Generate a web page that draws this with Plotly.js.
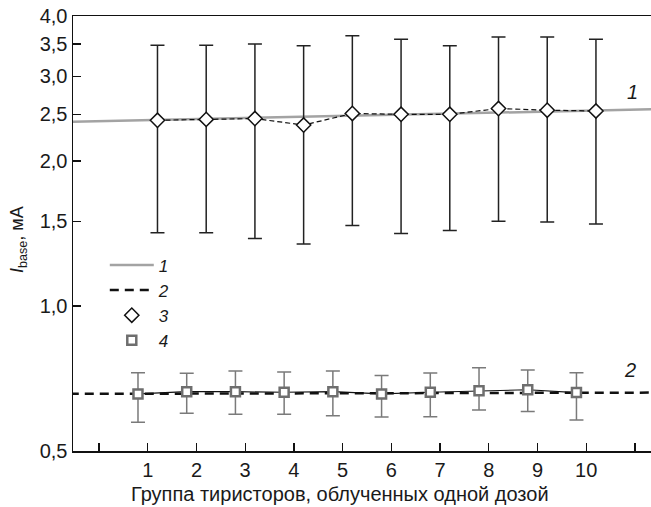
<!DOCTYPE html>
<html>
<head>
<meta charset="utf-8">
<script src="https://cdn.plot.ly/plotly-3.0.1.min.js"></script>
<style>
  html, body { margin: 0; padding: 0; background: #fff; }
  #chart { width: 651px; height: 507px; }
</style>
</head>
<body>
<div id="chart"></div>
<script>
// ---- data ----
const groups = [1, 2, 3, 4, 5, 6, 7, 8, 9, 10];
const xTickText = ['1', '2', '3', '4', '5', '6', '7', '8', '9', '10'];
const yTickVals = [0.5, 1.0, 1.5, 2.0, 2.5, 3.0, 3.5, 4.0];
const yTickText = ['0,5', '1,0', '1,5', '2,0', '2,5', '3,0', '3,5', '4,0'];

// series 3 (diamonds): mean, upper and lower ends of the bars, mA
const mean3 = [2.43, 2.44, 2.45, 2.375, 2.51, 2.50, 2.50, 2.57, 2.55, 2.54];
const high3 = [3.48, 3.48, 3.50, 3.47, 3.64, 3.58, 3.47, 3.62, 3.62, 3.58];
const low3  = [1.42, 1.42, 1.38, 1.345, 1.47, 1.415, 1.435, 1.50, 1.495, 1.48];

// series 4 (squares)
const mean4 = [0.657, 0.664, 0.664, 0.662, 0.664, 0.657, 0.662, 0.667, 0.670, 0.661];
const high4 = [0.727, 0.725, 0.733, 0.729, 0.733, 0.717, 0.726, 0.744, 0.736, 0.727];
const low4  = [0.574, 0.599, 0.596, 0.596, 0.592, 0.588, 0.589, 0.608, 0.604, 0.580];

// fitted lines 1 and 2 (end points)
const fitX  = [-0.6, 11.4];
const fit1Y = [2.413, 2.561];
const fit2Y = [0.657, 0.661];

// ---- drawing ----
const dodge = 0.2;
const x3 = groups.map(g => g + dodge);
const x4 = groups.map(g => g - dodge);
const up3 = high3.map((h, i) => h - mean3[i]);
const dn3 = low3.map((l, i) => mean3[i] - l);
const up4 = high4.map((h, i) => h - mean4[i]);
const dn4 = low4.map((l, i) => mean4[i] - l);

const grayLine = '#a3a3a3';
const grayMark = '#6e6e6e';

const traces = [
  { x: fitX, y: fit1Y, mode: 'lines', name: '1',
    line: { color: grayLine, width: 2.5 }, hoverinfo: 'skip' },
  { x: fitX, y: fit2Y, mode: 'lines', name: '2',
    line: { color: '#111', width: 2.5, dash: '9px,6px' }, hoverinfo: 'skip' },
  { x: x3, y: mean3, mode: 'lines', showlegend: false,
    line: { color: '#111', width: 1.2, dash: '5px,3px' } },
  { x: x4, y: mean4, mode: 'lines', showlegend: false,
    line: { color: '#111', width: 1.1 } },
  { x: x3, y: mean3, mode: 'markers', name: '3',
    marker: { symbol: 'diamond', size: 11, color: '#fff', line: { color: '#111', width: 1.5 } },
    error_y: { type: 'data', symmetric: false, array: up3, arrayminus: dn3,
               color: '#222', thickness: 1.5, width: 7 } },
  { x: x4, y: mean4, mode: 'markers', name: '4',
    marker: { symbol: 'square', size: 9, color: '#fff', line: { color: grayMark, width: 2.5 } },
    error_y: { type: 'data', symmetric: false, array: up4, arrayminus: dn4,
               color: '#7a7a7a', thickness: 1.5, width: 7 } }
];

const font = { family: 'Liberation Sans, Arial, sans-serif', color: '#1a1a1a' };

const layout = {
  width: 651, height: 507,
  margin: { l: 73, r: 0, t: 16, b: 56 },
  paper_bgcolor: '#fff', plot_bgcolor: '#fff',
  font: Object.assign({ size: 18 }, font),
  showlegend: true,
  legend: {
    x: 0.055, y: 0.468, xanchor: 'left', yanchor: 'top',
    bgcolor: 'rgba(0,0,0,0)', borderwidth: 0,
    itemwidth: 44, tracegroupgap: 0,
    font: Object.assign({ size: 17, style: 'italic' }, font)
  },
  xaxis: {
    range: [-0.534, 11.33],
    tickmode: 'array', tickvals: groups, ticktext: xTickText,
    ticks: 'inside', ticklen: 8, tickwidth: 1.3, tickcolor: '#111',
    minor: { tick0: 0, dtick: 1, ticks: 'inside', ticklen: 8, tickwidth: 1.3, tickcolor: '#111', showgrid: false },
    showline: true, linecolor: '#111', linewidth: 1.5, mirror: true,
    showgrid: false, zeroline: false,
    tickfont: Object.assign({ size: 20 }, font)
  },
  yaxis: {
    type: 'log',
    range: [Math.log10(0.5), Math.log10(4)],
    tickmode: 'array', tickvals: yTickVals, ticktext: yTickText,
    ticks: 'inside', ticklen: 8, tickwidth: 1.3, tickcolor: '#111',
    showline: true, linecolor: '#111', linewidth: 1.5, mirror: false,
    showgrid: false, zeroline: false,
    tickfont: Object.assign({ size: 20 }, font)
  },
  annotations: [
    { x: 0, y: 0.485, xref: 'paper', yref: 'paper', xanchor: 'center', yanchor: 'middle',
      xshift: -55, textangle: -90, text: '<i>I</i><sub>base</sub>, мА',
      showarrow: false, font: Object.assign({ size: 18 }, font) },
    { x: 0.462, y: 0, xref: 'paper', yref: 'paper', xanchor: 'center', yanchor: 'middle',
      yshift: -43, text: 'Группа тиристоров, облученных одной дозой',
      showarrow: false, font: Object.assign({ size: 20 }, font) },
    { x: 10.94, y: Math.log10(2.78), xref: 'x', yref: 'y', text: '<i>1</i>',
      showarrow: false, font: Object.assign({ size: 20 }, font) },
    { x: 10.9, y: Math.log10(0.736), xref: 'x', yref: 'y', text: '<i>2</i>',
      showarrow: false, font: Object.assign({ size: 20 }, font) }
  ]
};

Plotly.newPlot('chart', traces, layout, { displayModeBar: false, staticPlot: true });
</script>
</body>
</html>
